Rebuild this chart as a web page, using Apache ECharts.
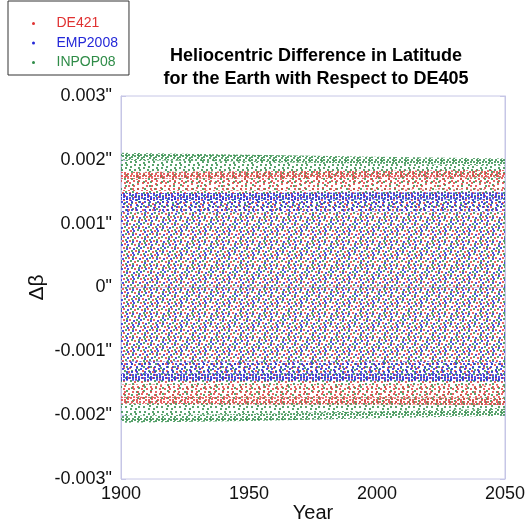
<!DOCTYPE html>
<html>
<head>
<meta charset="utf-8">
<script src="https://cdn.jsdelivr.net/npm/echarts@6/dist/echarts.min.js"></script>
<style>html,body{margin:0;padding:0;background:#fff}#chart{width:525px;height:523px}</style>
</head>
<body>
<div id="chart"></div>
<script>
// envelope of each residual band (arcsec)
var years = [1900, 1950, 2000, 2050];
var de421Upper = [0.00181, 0.00182, 0.00183, 0.00184];
var de421Lower = [-0.00182, -0.00183, -0.00183, -0.00184];
var emp2008Upper = [0.00148, 0.00148, 0.00149, 0.00149];
var emp2008Lower = [-0.00146, -0.00146, -0.00146, -0.00147];
var inpop08Upper = [0.00211, 0.00208, 0.00205, 0.00202];
var inpop08Lower = [-0.00212, -0.00209, -0.00205, -0.00201];
var xTicks = [1900, 1950, 2000, 2050];
var yTicks = [-0.003, -0.002, -0.001, 0, 0.001, 0.002, 0.003];

var EDGE1 = 0.00011, EDGE2 = 0.0003; // dense rim / medium rim width

//点阵纹理 (only a texture, R2 low-discrepancy placement)
function dotPattern(color, w, h, n, start) {
	var c = document.createElement('canvas');
	c.width = w; c.height = h;
	var ctx = c.getContext('2d');
	ctx.fillStyle = color;
	for (var i = start; i < start + n; i++) {
		var x = Math.floor(((0.5 + i * 0.7548776662) % 1) * w);
		var y = Math.floor(((0.5 + i * 0.5698402910) % 1) * h);
		ctx.fillRect(x, y, 2, 2);
		if (x > w - 2) ctx.fillRect(x - w, y, 2, 2);
		if (y > h - 2) ctx.fillRect(x, y - h, 2, 2);
	}
	return {image: c, repeat: 'repeat'};
}
function patterns(color, start) {
	return {
		dense: dotPattern(color, 12, 12, 18, start),
		medium: dotPattern(color, 18, 18, 20, start),
		sparse: dotPattern(color, 24, 24, 20, start)
	};
}

function bandSeries(name, color, upper, lower, pats, z) {
	var data = [];
	for (var i = 0; i < years.length - 1; i++) {
		data.push([years[i], years[i + 1], upper[i], upper[i + 1], lower[i], lower[i + 1]]);
	}
	return {
		type: 'custom', name: name, data: data, clip: true, z: z,
		itemStyle: {color: color},
		encode: {x: [0, 1], y: [2, 3, 4, 5]},
		renderItem: function(params, api) {
			var x0 = api.value(0), x1 = api.value(1);
			var u0 = api.value(2), u1 = api.value(3), l0 = api.value(4), l1 = api.value(5);
			var lv0 = [u0, u0 - EDGE1, u0 - EDGE2, l0 + EDGE2, l0 + EDGE1, l0];
			var lv1 = [u1, u1 - EDGE1, u1 - EDGE2, l1 + EDGE2, l1 + EDGE1, l1];
			var fills = [pats.dense, pats.medium, pats.sparse, pats.medium, pats.dense];
			var children = [];
			for (var k = 0; k < 5; k++) {
				children.push({
					type: 'polygon', silent: true,
					shape: {points: [api.coord([x0, lv0[k]]), api.coord([x1, lv1[k]]), api.coord([x1, lv1[k + 1]]), api.coord([x0, lv0[k + 1]])]},
					style: {fill: fills[k]}
				});
			}
			return {type: 'group', children: children};
		}
	};
}

var red = '#e03232', blue = '#2428d8', green = '#2f8c48';
var axisCol = '#c6c6e6';
var font = '"Liberation Sans", Arial, sans-serif';

var myChart = echarts.init(document.getElementById('chart'));
myChart.setOption({
	backgroundColor: '#fff',
	animation: false,
	graphic: [{
		type: 'text', x: 316, y: 45,
		style: {
			text: 'Heliocentric Difference in Latitude\nfor the Earth with Respect to DE405',
			font: 'bold 18px ' + font, lineHeight: 23, textAlign: 'center', fill: '#000'
		}
	}],
	legend: {
		orient: 'vertical', left: 8, top: 1,
		padding: [15, 11, 5, 24],
		itemWidth: 30, itemHeight: 3, itemGap: 4.5,
		borderColor: '#333', borderWidth: 1, backgroundColor: '#fff',
		textStyle: {fontFamily: font, fontSize: 14, lineHeight: 15, padding: [0, 0, 0, 3]},
		data: [
			{name: 'DE421', icon: 'circle', itemStyle: {color: red}, textStyle: {color: red}},
			{name: 'EMP2008', icon: 'circle', itemStyle: {color: blue}, textStyle: {color: blue}},
			{name: 'INPOP08', icon: 'circle', itemStyle: {color: green}, textStyle: {color: green}}
		]
	},
	grid: {left: 121, right: 20, top: 96, bottom: 44, outerBoundsMode: 'none', show: true, borderColor: axisCol, borderWidth: 1, backgroundColor: 'transparent'},
	xAxis: [{
		type: 'value', min: xTicks[0], max: xTicks[xTicks.length - 1], interval: xTicks[1] - xTicks[0],
		axisLine: {lineStyle: {color: axisCol}},
		axisTick: {inside: true, length: 5, lineStyle: {color: axisCol}},
		axisLabel: {fontFamily: font, fontSize: 18, color: '#111', margin: 6, formatter: function(v){ return String(v); }},
		splitLine: {show: false},
		name: 'Year', nameLocation: 'middle', nameGap: 24, nameMoveOverlap: false,
		nameTextStyle: {fontFamily: font, fontSize: 20, color: '#111'}
	}, {
		type: 'value', position: 'top', min: xTicks[0], max: xTicks[xTicks.length - 1], interval: xTicks[1] - xTicks[0],
		axisLine: {lineStyle: {color: axisCol}},
		axisTick: {inside: true, length: 5, lineStyle: {color: axisCol}},
		axisLabel: {show: false}, splitLine: {show: false}
	}],
	yAxis: [{
		type: 'value', min: yTicks[0], max: yTicks[yTicks.length - 1], interval: 0.001,
		axisLine: {show: true, lineStyle: {color: axisCol}},
		axisTick: {show: true, inside: true, length: 5, lineStyle: {color: axisCol}},
		axisLabel: {
			fontFamily: font, fontSize: 18, color: '#111', margin: 9,
			formatter: function(v){ return (Math.abs(v) < 1e-9 ? '0' : v.toFixed(3)) + '"'; }
		},
		splitLine: {show: false},
		name: 'Δβ', nameLocation: 'middle', nameGap: 73, nameRotate: 90, nameMoveOverlap: false,
		nameTextStyle: {fontFamily: font, fontSize: 21, color: '#111'}
	}, {
		type: 'value', position: 'right', min: yTicks[0], max: yTicks[yTicks.length - 1], interval: 0.001,
		axisLine: {show: true, lineStyle: {color: axisCol}},
		axisTick: {show: true, inside: true, length: 5, lineStyle: {color: axisCol}},
		axisLabel: {show: false}, splitLine: {show: false}
	}],
	series: [
		bandSeries('INPOP08', green, inpop08Upper, inpop08Lower, patterns('rgba(47,140,72,0.8)', 40), 2),
		bandSeries('DE421', red, de421Upper, de421Lower, patterns('rgba(224,60,60,0.8)', 20), 3),
		bandSeries('EMP2008', blue, emp2008Upper, emp2008Lower, patterns('rgba(36,40,216,0.8)', 0), 4)
	]
});
</script>
</body>
</html>
